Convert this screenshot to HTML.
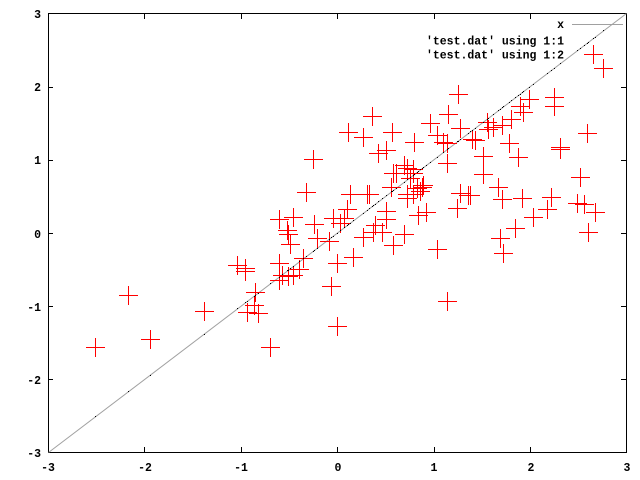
<!DOCTYPE html>
<html><head><meta charset="utf-8"><style>
html,body{margin:0;padding:0;background:#fff;}
svg{display:block;}
text{font-family:"Liberation Mono","DejaVu Sans Mono",monospace;font-weight:bold;font-size:11.5px;fill:#000;}
</style></head><body>
<svg width="640" height="480" viewBox="0 0 640 480" xmlns="http://www.w3.org/2000/svg">
<rect width="640" height="480" fill="#fff"/>
<g shape-rendering="crispEdges" stroke="#000" stroke-width="1" fill="none">
<rect x="48.5" y="13.5" width="578" height="439"/>
<path d="M48 87.5h5M48 160.5h5M48 233.5h5M48 306.5h5M48 379.5h5
M626 87.5h-5M626 160.5h-5M626 233.5h-5M626 306.5h-5M626 379.5h-5
M144.5 452v-5M241.5 452v-5M337.5 452v-5M434.5 452v-5M530.5 452v-5
M144.5 14v5M241.5 14v5M337.5 14v5M434.5 14v5M530.5 14v5"/>
</g>
<g text-anchor="end">
<text x="41" y="18">3</text>
<text x="41" y="91">2</text>
<text x="41" y="164">1</text>
<text x="41" y="238">0</text>
<text x="41" y="311">-1</text>
<text x="41" y="384">-2</text>
<text x="41" y="457">-3</text>
</g>
<g text-anchor="middle">
<text x="48" y="471">-3</text>
<text x="145" y="471">-2</text>
<text x="241" y="471">-1</text>
<text x="338" y="471">0</text>
<text x="434" y="471">1</text>
<text x="531" y="471">2</text>
<text x="627" y="471">3</text>
</g>
<g text-anchor="end">
<text x="564" y="28">x</text>
<text x="564" y="44.5">'test.dat' using 1:1</text>
<text x="564" y="58.5">'test.dat' using 1:2</text>
</g>
<line x1="572" y1="24.5" x2="623" y2="24.5" stroke="#a0a0a0" stroke-width="1" shape-rendering="crispEdges"/>
<line x1="48.5" y1="452.5" x2="626.5" y2="13.5" stroke="#a0a0a0" stroke-width="1"/>
<g id="crosses" stroke="#ff0000" stroke-width="1" shape-rendering="crispEdges" fill="none"></g>
<g id="dots" fill="#000" shape-rendering="crispEdges"></g>
</svg>
<script>
(function(){
var pts=[[128,295],[150,339],[95,347],[204,311],[270,347],[337,326],[331,286],[237,265],[245,268],[245,271],[255,292],[254,305],[247,312],[258,313],
[279,263],[279,280],[299,269],[282,275],[288,276],[293,275],[303,258],[337,263],[353,257],
[313,159],[306,192],[279,219],[293,217],[287,230],[288,234],[290,244],[314,224],[317,238],[329,241],[350,194],[367,194],[369,194],[333,218],[340,223],[347,209],[344,218],[386,211],[386,219],[375,225],[382,232],[373,232],[363,237],[393,245],[393,173],[391,187],[378,153],[386,150],
[458,94],[372,116],[448,114],[430,123],[348,132],[363,137],[392,132],[414,142],[437,135],[443,142],[447,143],[460,128],[472,139],[447,163],[404,165],[413,169],[396,173],[410,178],[422,187],[417,188],[407,194],[460,193],[468,195],[470,195],
[483,174],[498,187],[502,199],[522,198],[551,197],[547,209],[533,217],[515,228],[500,238],[503,253],[580,177],[577,203],[584,204],[595,212],[588,232],[437,249],[447,301],[404,234],[457,208],[418,215],[426,212],[423,185],[420,191],[413,194],[407,198],[407,168],[413,173],
[593,54],[603,68],[554,97],[554,106],[529,99],[520,106],[523,112],[511,119],[502,125],[493,127],[487,122],[488,129],[509,143],[518,157],[483,156],[560,147],[560,149],[587,133],[475,140]];
var d="";
var dd="";
for(var i=0;i<pts.length;i++){
 var x=pts[i][0],y=pts[i][1];
 d+="M"+(x-9)+" "+(y+0.5)+"h19M"+(x+0.5)+" "+(y-9)+"v19";
 var dy=Math.round(452-(x-48)*(439/578));
 dd+='<rect x="'+x+'" y="'+dy+'" width="1" height="1"/>';
}
var ns="http://www.w3.org/2000/svg";
var p=document.createElementNS(ns,"path");p.setAttribute("d",d);
document.getElementById("crosses").appendChild(p);
document.getElementById("dots").innerHTML=dd;
})();
</script>
</body></html>
